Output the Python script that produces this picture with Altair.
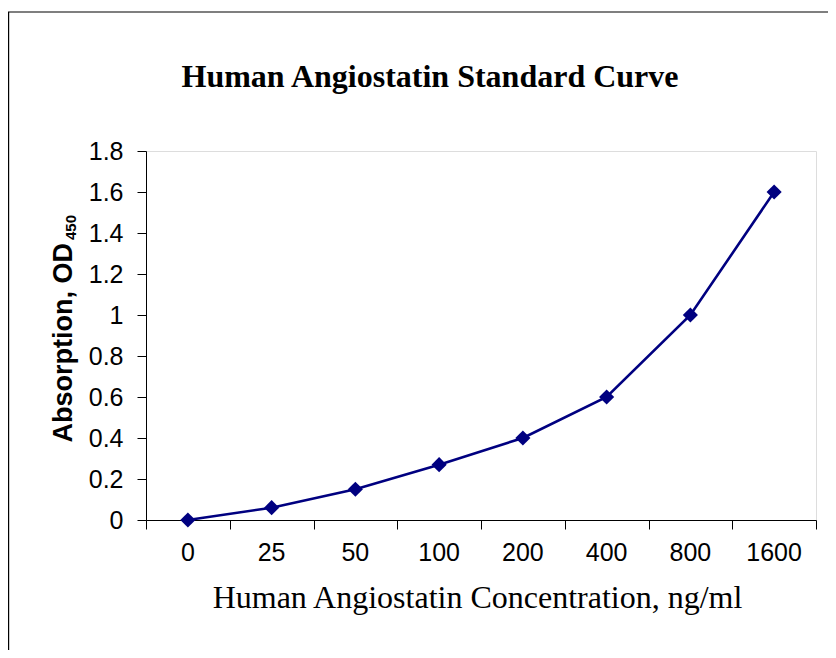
import altair as alt
import pandas as pd

concentrations = ["0", "25", "50", "100", "200", "400", "800", "1600"]
absorbance = [0.0, 0.06, 0.15, 0.27, 0.40, 0.60, 1.00, 1.60]
y_ticks = [0, 0.2, 0.4, 0.6, 0.8, 1.0, 1.2, 1.4, 1.6, 1.8]
x_ticks = [i - 0.5 for i in range(len(concentrations) + 1)]

df = pd.DataFrame({
    "idx": list(range(len(concentrations))),
    "conc": concentrations,
    "od": absorbance,
})

W, H = 670, 369
NAVY = "#000080"

x_enc = alt.X(
    "idx:Q",
    scale=alt.Scale(domain=[-0.5, len(concentrations) - 0.5], nice=False, zero=False),
    axis=alt.Axis(
        values=x_ticks, labels=False, grid=False, tickSize=9, tickColor="#000",
        domainColor="#000", tickWidth=1, domainWidth=1,
        title="Human Angiostatin Concentration, ng/ml",
        titleFont="Liberation Serif", titleFontSize=32, titleFontWeight="normal",
        titleColor="#000", titleBaseline="alphabetic", titleAnchor="middle",
        titleX=331, titleY=87,
    ),
)
y_enc = alt.Y(
    "od:Q",
    scale=alt.Scale(domain=[0, 1.8], nice=False),
    axis=alt.Axis(
        values=y_ticks, format="~g", grid=False, tickSize=9, tickColor="#000",
        domainColor="#000", labelFont="Liberation Sans", labelFontSize=25,
        labelColor="#000", labelPadding=14, title=None,
    ),
)

base = alt.Chart(df)
line = base.mark_line(color=NAVY, strokeWidth=2.6, clip=False).encode(x=x_enc, y=y_enc)
pts = base.mark_point(shape="diamond", filled=True, size=230, color=NAVY, opacity=1).encode(
    x="idx:Q", y="od:Q"
)
labels = base.mark_text(
    font="Liberation Sans", fontSize=25, color="#000", baseline="middle", align="center"
).encode(x="idx:Q", y=alt.value(H + 33), text="conc:N")

one = pd.DataFrame({"a": [0]})
title = alt.Chart(one).mark_text(
    text="Human Angiostatin Standard Curve", font="Liberation Serif", fontSize=32,
    fontWeight="bold", color="#000", align="center", baseline="alphabetic",
).encode(x=alt.value(284), y=alt.value(-64))
ytitle_main = alt.Chart(one).mark_text(
    text="Absorption, OD", font="Liberation Sans", fontSize=27, fontWeight="bold",
    color="#000", angle=270, align="right", baseline="alphabetic",
).encode(x=alt.value(-74), y=alt.value(92))
ytitle_sub = alt.Chart(one).mark_text(
    text="450", font="Liberation Sans", fontSize=15, fontWeight="bold",
    color="#000", angle=270, align="left", baseline="alphabetic",
).encode(x=alt.value(-70), y=alt.value(89))

frame_top = alt.Chart(one).mark_rule(color="#000", strokeWidth=1.2).encode(
    x=alt.value(-138), x2=alt.value(W + 40), y=alt.value(-139)
)
frame_left = alt.Chart(one).mark_rule(color="#000", strokeWidth=1.2).encode(
    x=alt.value(-137.4), y=alt.value(-139), y2=alt.value(H + 200)
)

chart = alt.layer(
    frame_top, frame_left, line, pts, labels, title, ytitle_main, ytitle_sub
).properties(
    width=W, height=H,
    autosize=alt.AutoSizeParams(type="none"),
    padding={"left": 138, "top": 143, "right": 12, "bottom": 130},
).configure_view(stroke=None).configure(background="white")

chart.save("out.html", embed_options={"renderer": "svg", "actions": False})
